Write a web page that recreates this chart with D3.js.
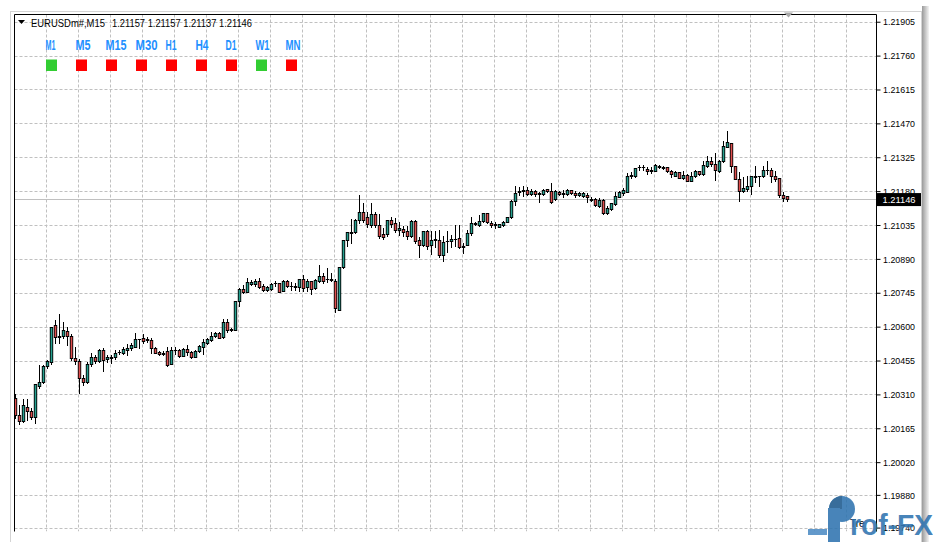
<!DOCTYPE html>
<html><head><meta charset="utf-8">
<script src="https://cdn.jsdelivr.net/npm/d3@7"></script>
<style>
html,body{margin:0;padding:0;background:#fff;}
svg{display:block;}
text{font-family:"Liberation Sans",Arial,sans-serif;}
</style></head><body>
<svg id="c" width="935" height="542"></svg>
<script>
// ---------------- data ----------------
const symbolLabel = "EURUSDm#,M15";
const lastOHLC = ["1.21157", "1.21157", "1.21137", "1.21146"];
const currentPrice = 1.21146;
const timeframes = ["M1","M5","M15","M30","H1","H4","D1","W1","MN"];
const tfSignals  = ["up","down","down","down","down","down","down","up","down"];
const priceTicks = [1.21905,1.21760,1.21615,1.21470,1.21325,1.21180,1.21035,1.20890,1.20745,1.20600,1.20455,1.20310,1.20165,1.20020,1.19880,1.19740];

const opens = [
1.20295,1.20222,1.20196,1.20256,1.20239,1.20213,1.20348,1.20365,1.20432,1.20449,
1.20607,1.20560,1.20560,1.20581,1.20560,1.20464,1.20455,1.20382,1.20363,1.20440,
1.20468,1.20455,1.20502,1.20462,1.20468,1.20472,1.20490,1.20489,1.20500,1.20507,
1.20514,1.20545,1.20551,1.20546,1.20543,1.20507,1.20491,1.20487,1.20496,1.20440,
1.20499,1.20499,1.20476,1.20504,1.20493,1.20471,1.20496,1.20514,1.20529,1.20542,
1.20561,1.20573,1.20556,1.20619,1.20590,1.20587,1.20710,1.20761,1.20750,1.20781,
1.20781,1.20795,1.20774,1.20758,1.20761,1.20785,1.20786,1.20753,1.20795,1.20775,
1.20771,1.20771,1.20804,1.20771,1.20795,1.20764,1.20795,1.20815,1.20804,1.20798,
1.20794,1.20673,1.20854,1.20969,1.21002,1.21004,1.21058,1.21091,1.21068,1.21037,
1.21082,1.21034,1.20997,1.20997,1.21055,1.21044,1.21015,1.21019,1.21008,1.20987,
1.21051,1.20972,1.20948,1.21008,1.20948,1.20969,1.20972,1.20905,1.20965,1.20965,
1.20976,1.20979,1.20946,1.20951,1.21001,1.21038,1.21036,1.21051,1.21085,1.21045,
1.21039,1.21028,1.21035,1.21049,1.21068,1.21138,1.21177,1.21182,1.21185,1.21166,
1.21180,1.21173,1.21168,1.21188,1.21182,1.21145,1.21177,1.21173,1.21168,1.21185,
1.21171,1.21163,1.21160,1.21163,1.21146,1.21146,1.21116,1.21142,1.21085,1.21104,
1.21125,1.21156,1.21171,1.21177,1.21245,1.21245,1.21282,1.21282,1.21275,1.21265,
1.21267,1.21289,1.21285,1.21282,1.21265,1.21246,1.21261,1.21235,1.21249,1.21225,
1.21243,1.21265,1.21253,1.21289,1.21308,1.21296,1.21267,1.21308,1.21370,1.21385,
1.21289,1.21232,1.21182,1.21189,1.21203,1.21239,1.21243,1.21243,1.21270,1.21270,
1.21246,1.21236,1.21165,1.21157];
const highs = [
1.20312,1.20265,1.20290,1.20290,1.20252,1.20355,1.20436,1.20436,1.20457,1.20598,
1.20628,1.20654,1.20620,1.20598,1.20569,1.20513,1.20462,1.20393,1.20449,1.20487,
1.20479,1.20504,1.20509,1.20479,1.20479,1.20500,1.20500,1.20515,1.20526,1.20530,
1.20572,1.20549,1.20569,1.20557,1.20551,1.20514,1.20496,1.20497,1.20513,1.20512,
1.20513,1.20504,1.20509,1.20521,1.20497,1.20500,1.20521,1.20547,1.20551,1.20576,
1.20577,1.20578,1.20633,1.20633,1.20594,1.20710,1.20767,1.20778,1.20809,1.20800,
1.20804,1.20807,1.20781,1.20774,1.20787,1.20795,1.20787,1.20798,1.20798,1.20790,
1.20786,1.20804,1.20821,1.20804,1.20795,1.20804,1.20864,1.20828,1.20850,1.20830,
1.20804,1.20854,1.20971,1.21004,1.21062,1.21059,1.21162,1.21129,1.21091,1.21129,
1.21091,1.21082,1.21022,1.21056,1.21068,1.21065,1.21047,1.21031,1.21029,1.21056,
1.21056,1.20984,1.21011,1.21014,1.21008,1.21009,1.21014,1.20988,1.21011,1.20991,
1.21034,1.21034,1.20958,1.21014,1.21070,1.21048,1.21079,1.21088,1.21088,1.21053,
1.21048,1.21041,1.21053,1.21070,1.21142,1.21202,1.21196,1.21202,1.21196,1.21189,
1.21185,1.21177,1.21189,1.21190,1.21213,1.21184,1.21182,1.21185,1.21188,1.21186,
1.21182,1.21176,1.21176,1.21173,1.21156,1.21149,1.21149,1.21145,1.21116,1.21129,
1.21177,1.21182,1.21192,1.21256,1.21263,1.21280,1.21292,1.21292,1.21282,1.21285,
1.21296,1.21292,1.21288,1.21283,1.21270,1.21265,1.21263,1.21265,1.21252,1.21261,
1.21270,1.21267,1.21308,1.21332,1.21327,1.21342,1.21313,1.21396,1.21439,1.21386,
1.21289,1.21261,1.21239,1.21246,1.21246,1.21289,1.21246,1.21289,1.21308,1.21279,
1.21265,1.21236,1.21175,1.21157];
const lows = [
1.20209,1.20183,1.20192,1.20200,1.20205,1.20188,1.20337,1.20359,1.20423,1.20440,
1.20530,1.20530,1.20551,1.20521,1.20457,1.20440,1.20318,1.20350,1.20359,1.20432,
1.20444,1.20449,1.20412,1.20449,1.20444,1.20462,1.20483,1.20483,1.20479,1.20500,
1.20512,1.20509,1.20530,1.20533,1.20487,1.20486,1.20479,1.20477,1.20432,1.20438,
1.20482,1.20470,1.20473,1.20479,1.20466,1.20469,1.20491,1.20483,1.20526,1.20539,
1.20557,1.20550,1.20553,1.20576,1.20581,1.20586,1.20690,1.20744,1.20747,1.20778,
1.20775,1.20764,1.20754,1.20753,1.20757,1.20775,1.20748,1.20751,1.20771,1.20757,
1.20757,1.20753,1.20753,1.20753,1.20738,1.20761,1.20792,1.20786,1.20792,1.20795,
1.20664,1.20671,1.20850,1.20944,1.20958,1.21002,1.21044,1.21049,1.21026,1.21025,
1.21026,1.20979,1.20975,1.20988,1.21028,1.21005,1.20992,1.20988,1.20976,1.20984,
1.20958,1.20897,1.20944,1.20931,1.20911,1.20941,1.20899,1.20882,1.20919,1.20942,
1.20944,1.20937,1.20915,1.20949,1.20992,1.21035,1.21031,1.21048,1.21045,1.21025,
1.21022,1.21026,1.21031,1.21048,1.21065,1.21121,1.21163,1.21159,1.21163,1.21163,
1.21159,1.21135,1.21163,1.21177,1.21130,1.21142,1.21163,1.21156,1.21163,1.21168,
1.21156,1.21159,1.21155,1.21135,1.21139,1.21118,1.21113,1.21082,1.21082,1.21101,
1.21121,1.21155,1.21163,1.21176,1.21235,1.21242,1.21270,1.21270,1.21253,1.21256,
1.21265,1.21279,1.21276,1.21262,1.21239,1.21243,1.21235,1.21232,1.21223,1.21223,
1.21240,1.21250,1.21250,1.21282,1.21289,1.21228,1.21263,1.21303,1.21368,1.21261,
1.21231,1.21136,1.21175,1.21182,1.21168,1.21218,1.21203,1.21239,1.21253,1.21218,
1.21225,1.21154,1.21139,1.21137];
const closes = [
1.20222,1.20196,1.20265,1.20239,1.20213,1.20355,1.20365,1.20432,1.20451,1.20598,
1.20556,1.20554,1.20586,1.20560,1.20464,1.20451,1.20382,1.20365,1.20440,1.20468,
1.20455,1.20502,1.20459,1.20472,1.20464,1.20489,1.20493,1.20504,1.20509,1.20520,
1.20546,1.20548,1.20540,1.20542,1.20507,1.20489,1.20483,1.20483,1.20434,1.20502,
1.20500,1.20473,1.20504,1.20493,1.20471,1.20496,1.20518,1.20533,1.20547,1.20560,
1.20572,1.20553,1.20621,1.20587,1.20586,1.20710,1.20761,1.20750,1.20790,1.20790,
1.20795,1.20771,1.20758,1.20770,1.20784,1.20786,1.20750,1.20795,1.20775,1.20776,
1.20772,1.20804,1.20767,1.20795,1.20761,1.20800,1.20815,1.20795,1.20803,1.20803,
1.20678,1.20854,1.20970,1.21003,1.21004,1.21058,1.21091,1.21058,1.21039,1.21082,
1.21033,1.20987,1.20985,1.21055,1.21041,1.21015,1.21024,1.21005,1.20987,1.21053,
1.20965,1.20948,1.21008,1.20944,1.20972,1.20973,1.20905,1.20962,1.20966,1.20976,
1.20977,1.20940,1.20940,1.21001,1.21044,1.21044,1.21053,1.21086,1.21049,1.21035,
1.21035,1.21039,1.21049,1.21069,1.21138,1.21173,1.21180,1.21183,1.21166,1.21182,
1.21166,1.21168,1.21185,1.21182,1.21132,1.21182,1.21166,1.21166,1.21185,1.21171,
1.21163,1.21173,1.21173,1.21156,1.21142,1.21121,1.21142,1.21085,1.21107,1.21128,
1.21159,1.21177,1.21185,1.21245,1.21249,1.21278,1.21283,1.21283,1.21265,1.21270,
1.21293,1.21282,1.21279,1.21265,1.21253,1.21261,1.21236,1.21249,1.21225,1.21243,
1.21265,1.21253,1.21292,1.21308,1.21296,1.21270,1.21308,1.21372,1.21389,1.21289,
1.21232,1.21182,1.21193,1.21203,1.21246,1.21246,1.21244,1.21270,1.21271,1.21246,
1.21232,1.21165,1.21151,1.21146];

// ---------------- layout ----------------
const W = 935, H = 542;
const L = 14.5, T = 14.5, R = 876.5, B = 531.5;
const BULL = "#26a08f", BEAR = "#e04f4f";

const svg = d3.select("#c");
svg.append("rect").attr("width", W).attr("height", H).attr("fill", "#fff");

// window frame + shadow
const defs = svg.append("defs");
const g1 = defs.append("linearGradient").attr("id","shR").attr("x1","0").attr("x2","1").attr("y1","0").attr("y2","0");
g1.append("stop").attr("offset","0").attr("stop-color","#9a9a9a");
g1.append("stop").attr("offset","1").attr("stop-color","#f4f4f4");
svg.append("rect").attr("x",922).attr("y",6).attr("width",7).attr("height",H-6).attr("fill","url(#shR)");
svg.append("rect").attr("x",10.5).attr("y",11.5).attr("width",911).attr("height",H).attr("fill","none").attr("stroke","#d4d4d4");

defs.append("clipPath").attr("id","plot").append("rect").attr("x",L).attr("y",T).attr("width",R-L).attr("height",B-T);
defs.append("clipPath").attr("id","axisclip").append("rect").attr("x",R).attr("y",T).attr("width",W-R).attr("height",B-T);

const N = opens.length;
const x = d3.scaleLinear().domain([0, N - 1]).range([15.5, 15.5 + 4 * (N - 1)]);
const y = d3.scaleLinear().domain([1.21905, 1.19880]).range([21.73, 494.87]);

const plot = svg.append("g").attr("clip-path","url(#plot)");

// grid
const gridIdx = d3.range(8, 400, 8).filter(i => x(i) < R - 1);
plot.append("g").selectAll("line").data(gridIdx).join("line")
  .attr("x1", i => Math.floor(x(i)) - 0.5).attr("x2", i => Math.floor(x(i)) - 0.5)
  .attr("y1", T).attr("y2", B)
  .attr("stroke", "#c0c0c0").attr("stroke-dasharray", "3,2");
plot.append("g").selectAll("line").data(priceTicks).join("line")
  .attr("x1", L).attr("x2", R)
  .attr("y1", d => Math.round(y(d)) + 0.5).attr("y2", d => Math.round(y(d)) + 0.5)
  .attr("stroke", "#c0c0c0").attr("stroke-dasharray", "3,2");

// current price line
plot.append("line").attr("x1", L).attr("x2", R)
  .attr("y1", Math.round(y(currentPrice)) + 0.5).attr("y2", Math.round(y(currentPrice)) + 0.5)
  .attr("stroke", "#c0c0c0");

// candles
const candles = d3.range(N).map(i => ({i, o: opens[i], h: highs[i], l: lows[i], c: closes[i]}));
const cg = plot.append("g").selectAll("g").data(candles).join("g");
cg.append("line")
  .attr("x1", d => x(d.i)).attr("x2", d => x(d.i))
  .attr("y1", d => Math.round(y(d.h))).attr("y2", d => Math.round(y(d.l)) + 1)
  .attr("stroke", "#000").attr("stroke-width", 1);
cg.append("rect")
  .attr("x", d => x(d.i) - 1.7).attr("width", 3.4)
  .attr("y", d => Math.round(y(Math.max(d.o, d.c))))
  .attr("height", d => Math.max(1, Math.round(y(Math.min(d.o, d.c))) - Math.round(y(Math.max(d.o, d.c))) + 1))
  .attr("fill", "#000");
cg.filter(d => Math.round(y(Math.min(d.o, d.c))) - Math.round(y(Math.max(d.o, d.c))) >= 2)
  .append("rect")
  .attr("x", d => x(d.i) - 0.8).attr("width", 1.6)
  .attr("y", d => Math.round(y(Math.max(d.o, d.c))) + 1)
  .attr("height", d => Math.round(y(Math.min(d.o, d.c))) - Math.round(y(Math.max(d.o, d.c))) - 1)
  .attr("fill", d => d.c >= d.o ? BULL : BEAR);

// borders
svg.append("line").attr("x1", L).attr("x2", L).attr("y1", T).attr("y2", B).attr("stroke", "#000");
svg.append("line").attr("x1", L).attr("x2", R).attr("y1", T).attr("y2", T).attr("stroke", "#000");
svg.append("line").attr("x1", R).attr("x2", R).attr("y1", T).attr("y2", B).attr("stroke", "#000");

// shift marker
svg.append("path").attr("d", "M784,12.5 L793,12.5 L788.5,17.5 Z").attr("fill", "#a8a8a8");

// price axis
const axis = d3.axisRight(y).tickValues(priceTicks).tickSize(4).tickPadding(2.5)
  .tickFormat(d => d.toFixed(5));
const ag = svg.append("g").attr("clip-path","url(#axisclip)").append("g").attr("transform", `translate(${R},0)`).call(axis);
ag.select(".domain").remove();
ag.selectAll(".tick line").attr("stroke", "#000");
ag.selectAll(".tick text").attr("fill", "#000").attr("font-size", "9.8px")
  .attr("font-family", "'Liberation Sans',Arial,sans-serif")
  .attr("textLength", 32).attr("lengthAdjust", "spacingAndGlyphs");

// current price box
const cy = y(currentPrice);
svg.append("rect").attr("x", 877).attr("y", cy - 6).attr("width", 44).attr("height", 13).attr("fill", "#000");
svg.append("text").attr("x", 882.5).attr("y", cy + 3.5).attr("fill", "#fff").attr("font-size", "9.8px")
  .attr("textLength", 33).attr("lengthAdjust", "spacingAndGlyphs").text(currentPrice.toFixed(5));

// header
svg.append("path").attr("d", "M18,20 L25,20 L21.5,24 Z").attr("fill", "#000");
svg.append("text").attr("x", 31).attr("y", 26.5).attr("font-size", "10.5px").attr("fill", "#000")
  .attr("textLength", 74).attr("lengthAdjust", "spacingAndGlyphs").text(symbolLabel);
svg.append("text").attr("x", 112).attr("y", 26.5).attr("font-size", "10.5px").attr("fill", "#000")
  .attr("textLength", 140).attr("lengthAdjust", "spacingAndGlyphs").text(lastOHLC.join(" "));

// timeframe indicator
const tx = d3.scaleBand().domain(timeframes).range([46, 46 + 30 * timeframes.length]).paddingInner(0);
const tfWidths = {M1:10, M5:15, M15:21, M30:22, H1:11, H4:13, D1:11, W1:14, MN:15};
svg.append("g").selectAll("text").data(timeframes).join("text")
  .attr("x", d => tx(d) - 0.5).attr("y", 49.5)
  .attr("font-size", "15px").attr("font-weight", "bold").attr("fill", "#1e90ff")
  .attr("textLength", d => tfWidths[d]).attr("lengthAdjust", "spacingAndGlyphs")
  .text(d => d);
svg.append("g").selectAll("rect").data(timeframes).join("rect")
  .attr("x", d => tx(d)).attr("y", 59.5).attr("width", 11).attr("height", 11.5)
  .attr("fill", (d, i) => tfSignals[i] === "up" ? "#32cd32" : "#ff0000");

// watermark text + logo
svg.append("text").attr("x", 850).attr("y", 527).attr("font-size", "10px").attr("fill", "#000").text("Tre");
const logo = svg.append("g").attr("fill", "#2f74b0").attr("opacity", 0.88);
logo.append("rect").attr("x", 808).attr("y", 529).attr("width", 19).attr("height", 6).attr("fill", "#4d8cc4");
logo.append("circle").attr("cx", 842).attr("cy", 509).attr("r", 13);
logo.append("path").attr("d", "M842,509 L842,496 A13,13 0 0,0 829,509 Z").attr("fill", "#1d5a8e");
logo.append("rect").attr("x", 828).attr("y", 508).attr("width", 12).attr("height", 34);
logo.append("text").attr("x", 850).attr("y", 535).attr("font-size", "30px").attr("font-weight", "bold")
  .attr("textLength", 83).attr("lengthAdjust", "spacingAndGlyphs").text("rof-FX");
</script>
</body></html>
